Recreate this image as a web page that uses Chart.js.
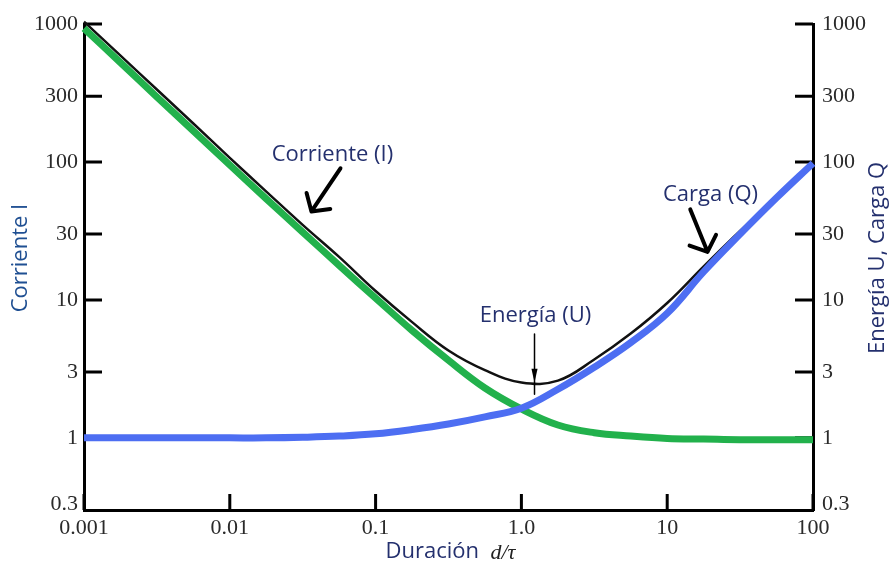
<!DOCTYPE html>
<html>
<head>
<meta charset="utf-8">
<script src="https://cdn.jsdelivr.net/npm/chart.js@4/dist/chart.umd.min.js"></script>
<style>
html, body { margin: 0; padding: 0; background: #fff; }
#caja { width: 896px; height: 563px; position: relative; }
</style>
</head>
<body>
<div id="caja"><canvas id="grafico"></canvas></div>
<script>
// valores (cuatro puntos por decada)
const duracion  = [0.001, 0.00178, 0.00316, 0.00562, 0.01, 0.0178, 0.0316, 0.0562, 0.1, 0.178, 0.316, 0.562, 1, 1.78, 3.16, 5.62, 10, 17.8, 31.6, 56.2, 100];
const corriente = [930, 525, 296, 168, 95, 54, 31, 17.8, 10.3, 6.0, 3.65, 2.3, 1.62, 1.24, 1.09, 1.03, 0.99, 0.98, 0.97, 0.97, 0.97];
const carga     = [1, 1, 1, 1, 1, 1, 1.01, 1.03, 1.07, 1.15, 1.26, 1.42, 1.64, 2.25, 3.25, 4.9, 8.0, 16, 30, 55, 98];
const energia   = [1040, 590, 335, 190, 107, 61, 35, 20.5, 11.6, 6.9, 4.3, 3.1, 2.52, 2.6, 3.7, 5.7, 9.5, 17.5, 31.6, 56, 100];

const xTicks = [0.001, 0.01, 0.1, 1, 10, 100];
const xTickLabels = ['0.001', '0.01', '0.1', '1.0', '10', '100'];
const yTicks = [0.33, 1, 3, 10, 30, 100, 300, 1000];
const yTickLabels = ['0.3', '1', '3', '10', '30', '100', '300', '1000'];

const notas = [
    { texto: 'Corriente (I)', x: 0.0506, y: 112 },
    { texto: 'Energía (U)', x: 1.25, y: 7.74 },
    { texto: 'Carga (Q)', x: 19.8, y: 58 }
];
const flechas = [
    { desde: [0.0574, 90], hasta: [0.0363, 43.8], grueso: true },
    { desde: [14.4, 45.3], hasta: [18.9, 22.3], grueso: true },
    { desde: [1.23, 5.66], hasta: [1.23, 2.52], fin: [1.23, 2.07], grueso: false }
];

const fuenteTexto = '"Open Sans", sans-serif';
const colorTexto = '#24306e';

function etiqueta(valores, etiquetas) {
    return function (v) {
        const i = valores.findIndex(t => Math.abs(Math.log10(t) - Math.log10(v)) < 1e-6);
        return i >= 0 ? etiquetas[i] : '';
    };
}

const marcasInternas = {
    id: 'marcasInternas',
    beforeDatasetsDraw(chart) {
        const ctx = chart.ctx;
        const a = chart.chartArea;
        const x = chart.scales.x, y = chart.scales.y;
        ctx.save();
        ctx.strokeStyle = '#000';
        ctx.lineWidth = 3;
        ctx.beginPath();
        xTicks.forEach(v => {
            const px = x.getPixelForValue(v);
            ctx.moveTo(px, a.bottom);
            ctx.lineTo(px, a.bottom - 16);
        });
        yTicks.slice(1).forEach(v => {
            const py = y.getPixelForValue(v);
            ctx.moveTo(a.left, py);
            ctx.lineTo(a.left + 18, py);
            ctx.moveTo(a.right, py);
            ctx.lineTo(a.right - 18, py);
        });
        ctx.stroke();
        ctx.restore();
    }
};

const anotaciones = {
    id: 'anotaciones',
    afterDraw(chart) {
        const ctx = chart.ctx;
        const a = chart.chartArea;
        const x = chart.scales.x, y = chart.scales.y;
        ctx.save();
        // textos dentro del grafico
        ctx.font = '22px ' + fuenteTexto;
        ctx.fillStyle = colorTexto;
        ctx.textAlign = 'center';
        ctx.textBaseline = 'middle';
        notas.forEach(n => ctx.fillText(n.texto, x.getPixelForValue(n.x), y.getPixelForValue(n.y)));

        // flechas
        ctx.strokeStyle = '#000';
        ctx.fillStyle = '#000';
        ctx.lineCap = 'round';
        ctx.lineJoin = 'round';
        flechas.forEach(f => {
            const x1 = x.getPixelForValue(f.desde[0]), y1 = y.getPixelForValue(f.desde[1]);
            const x2 = x.getPixelForValue(f.hasta[0]), y2 = y.getPixelForValue(f.hasta[1]);
            const ang = Math.atan2(y1 - y2, x1 - x2);
            if (f.grueso) {
                ctx.lineWidth = 4;
                ctx.beginPath();
                ctx.moveTo(x1, y1);
                ctx.lineTo(x2, y2);
                ctx.moveTo(x2 + 19 * Math.cos(ang - 0.85), y2 + 19 * Math.sin(ang - 0.85));
                ctx.lineTo(x2, y2);
                ctx.lineTo(x2 + 19 * Math.cos(ang + 0.85), y2 + 19 * Math.sin(ang + 0.85));
                ctx.stroke();
            } else {
                const x3 = x.getPixelForValue(f.fin[0]), y3 = y.getPixelForValue(f.fin[1]);
                ctx.lineWidth = 1.5;
                ctx.beginPath();
                ctx.moveTo(x1, y1);
                ctx.lineTo(x3, y3);
                ctx.stroke();
                ctx.beginPath();
                ctx.moveTo(x2, y2);
                ctx.lineTo(x2 + 14 * Math.cos(ang - 0.22), y2 + 14 * Math.sin(ang - 0.22));
                ctx.lineTo(x2 + 14 * Math.cos(ang + 0.22), y2 + 14 * Math.sin(ang + 0.22));
                ctx.closePath();
                ctx.fill();
            }
        });

        // titulos de los ejes
        ctx.fillStyle = colorTexto;
        ctx.textBaseline = 'middle';
        ctx.textAlign = 'center';
        const medio = (a.top + a.bottom) / 2 - 9;
        ctx.save();
        ctx.translate(21, medio);
        ctx.rotate(-Math.PI / 2);
        ctx.fillStyle = '#1f4f92';
        ctx.fillText('Corriente I', 0, 0);
        ctx.restore();
        ctx.save();
        ctx.translate(chart.width - 18, medio);
        ctx.rotate(-Math.PI / 2);
        ctx.fillText('Energía U, Carga Q', 0, 0);
        ctx.restore();

        const t1 = 'Duración  ';
        ctx.font = '22px ' + fuenteTexto;
        const w1 = ctx.measureText(t1).width;
        ctx.font = 'italic 22px "Liberation Serif", serif';
        const w2 = ctx.measureText('d/τ').width;
        let xi = (a.left + a.right) / 2 + 2 - (w1 + w2) / 2;
        ctx.textAlign = 'left';
        ctx.font = '22px ' + fuenteTexto;
        ctx.fillText(t1, xi, 552);
        ctx.fillStyle = '#222';
        ctx.font = 'italic 22px "Liberation Serif", serif';
        ctx.fillText('d/τ', xi + w1, 553);
        ctx.restore();
    }
};

const fuenteTicks = { family: '"Liberation Serif", serif', size: 22 };

function serie(valores) {
    return valores.map((v, i) => ({ x: duracion[i], y: v }));
}

new Chart(document.getElementById('grafico'), {
    type: 'line',
    data: {
        datasets: [{
            label: 'Energía (U)',
            data: serie(energia),
            borderColor: '#111',
            borderWidth: 2.5,
            tension: 0.4,
            pointRadius: 0,
            clip: false,
            order: 3
        }, {
            label: 'Corriente (I)',
            data: serie(corriente),
            borderColor: '#22b14c',
            borderWidth: 7,
            tension: 0.4,
            pointRadius: 0,
            clip: false,
            order: 2
        }, {
            label: 'Carga (Q)',
            data: serie(carga),
            borderColor: '#4d6ef2',
            borderWidth: 7,
            tension: 0.4,
            pointRadius: 0,
            clip: false,
            order: 1
        }]
    },
    options: {
        responsive: true,
        maintainAspectRatio: false,
        animation: false,
        layout: { padding: { top: 24, left: 0, right: 0, bottom: 0 } },
        plugins: { legend: { display: false }, tooltip: { enabled: false } },
        scales: {
            x: {
                type: 'logarithmic',
                min: 0.001,
                max: 100,
                afterFit(s) { s.height = 53; },
                afterBuildTicks(s) { s.ticks = xTicks.map(v => ({ value: v })); },
                grid: { display: false, drawTicks: false },
                border: { display: true, color: '#000', width: 3 },
                ticks: {
                    autoSkip: false, maxRotation: 0, padding: 5,
                    color: '#2a2a2a', font: fuenteTicks,
                    callback: etiqueta(xTicks, xTickLabels)
                }
            },
            y: {
                type: 'logarithmic',
                position: 'left',
                min: 0.33,
                max: 1000,
                afterFit(s) { s.width = 84; },
                afterBuildTicks(s) { s.ticks = yTicks.map(v => ({ value: v })); },
                grid: { display: false, drawTicks: false },
                border: { display: true, color: '#000', width: 3 },
                ticks: {
                    autoSkip: false, padding: 6,
                    color: '#2a2a2a', font: fuenteTicks,
                    callback: etiqueta(yTicks, yTickLabels)
                }
            },
            y2: {
                type: 'logarithmic',
                position: 'right',
                min: 0.33,
                max: 1000,
                afterFit(s) { s.width = 83; },
                afterBuildTicks(s) { s.ticks = yTicks.map(v => ({ value: v })); },
                grid: { display: false, drawTicks: false },
                border: { display: true, color: '#000', width: 3 },
                ticks: {
                    autoSkip: false, padding: 9,
                    color: '#2a2a2a', font: fuenteTicks,
                    callback: etiqueta(yTicks, yTickLabels)
                }
            }
        }
    },
    plugins: [marcasInternas, anotaciones]
});
</script>
</body>
</html>
